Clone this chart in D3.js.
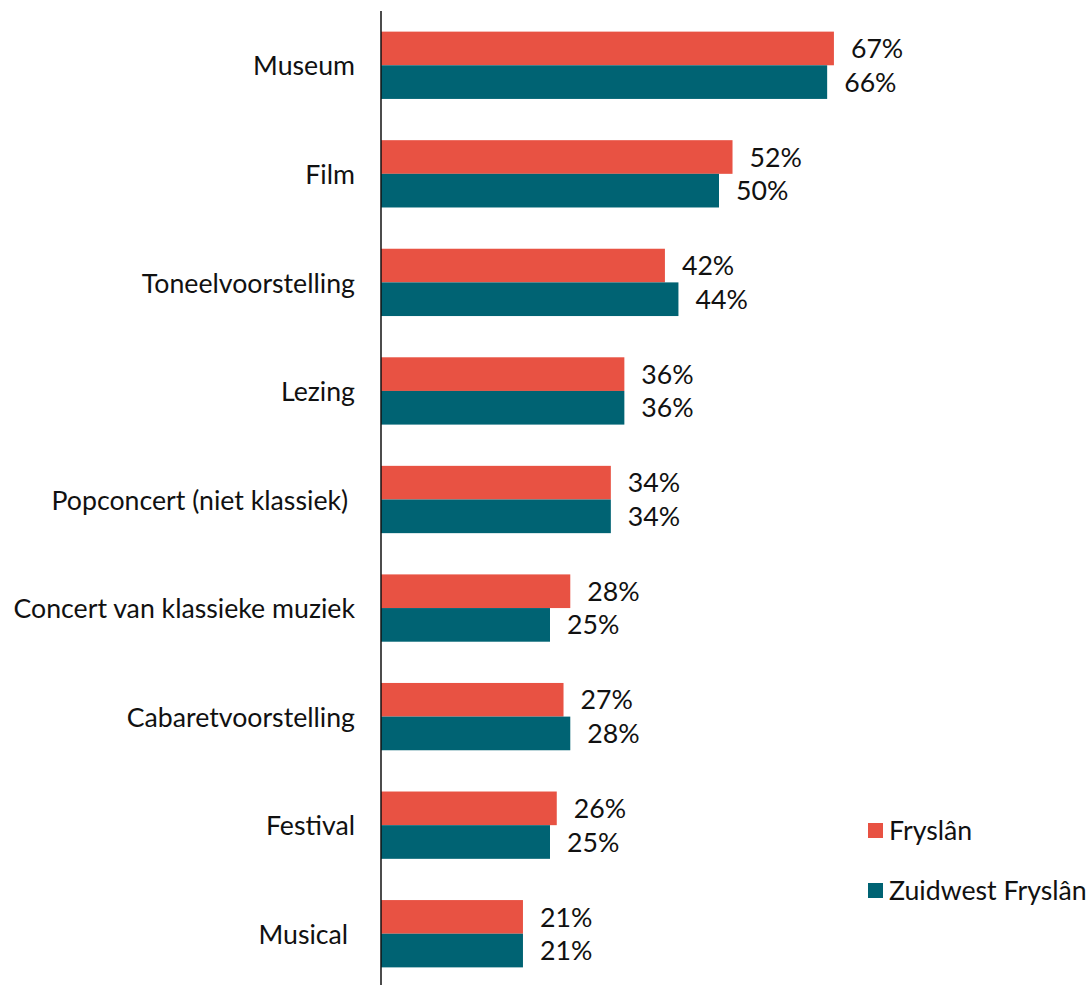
<!DOCTYPE html>
<html>
<head>
<meta charset="utf-8">
<script src="https://cdn.jsdelivr.net/npm/d3@7"></script>
<style>
  body { margin: 0; background: #fff; }
  svg text { font-family: Lato, "Noto Sans", sans-serif; fill: #111; }
</style>
</head>
<body>
<div id="chart"></div>
<script>
const categories = [`Museum`, `Film`, `Toneelvoorstelling`, `Lezing`, `Popconcert (niet klassiek) `,
  `Concert van klassieke muziek`, `Cabaretvoorstelling`, `Festival`, `Musical `];
const seriesNames = [`Fryslân`, `Zuidwest Fryslân`];
const fryslan = [67, 52, 42, 36, 34, 28, 27, 26, 21];
const zuidwest = [66, 50, 44, 36, 34, 25, 28, 25, 21];
const colors = [`#E85243`, `#006373`];

const width = 1092;
const height = 985;
const fontSize = 26.7;

const data = categories.map((c, i) => ({cat: c, values: [fryslan[i], zuidwest[i]]}));

const svg = d3.select(`#chart`)
  .append(`svg`)
    .attr(`width`, width)
    .attr(`height`, height);

const y = d3.scaleBand()
  .domain(categories)
  .range([11, 988])
  .paddingInner(0.38)
  .paddingOuter(0.19);

const ySub = d3.scaleBand()
  .domain([0, 1])
  .range([0, y.bandwidth()]);

const x = d3.scaleLinear()
  .domain([0, 100])
  .range([381, 1057]);

const groups = svg.selectAll(`.group`)
  .data(data)
  .enter().append(`g`)
    .attr(`class`, `group`)
    .attr(`transform`, d => `translate(0,${y(d.cat)})`);

groups.selectAll(`rect`)
  .data(d => d.values)
  .enter().append(`rect`)
    .attr(`x`, x(0))
    .attr(`y`, (d, i) => ySub(i))
    .attr(`width`, d => x(d) - x(0))
    .attr(`height`, ySub.bandwidth())
    .attr(`fill`, (d, i) => colors[i]);

groups.selectAll(`.value`)
  .data(d => d.values)
  .enter().append(`text`)
    .attr(`class`, `value`)
    .attr(`x`, d => x(d) + 17)
    .attr(`y`, (d, i) => ySub(i) + ySub.bandwidth() / 2)
    .attr(`dy`, `0.36em`)
    .style(`font-size`, `${fontSize}px`)
    .text(d => `${d}%`);

// category labels
const yAxis = svg.append(`g`)
  .attr(`transform`, `translate(${x(0)},0)`)
  .call(d3.axisLeft(y).tickSize(0).tickPadding(26));
yAxis.select(`.domain`).remove();
yAxis.selectAll(`text`)
  .style(`font-size`, `${fontSize}px`)
  .style(`font-family`, `Lato, "Noto Sans", sans-serif`)
  .style(`white-space`, `pre`)
  .attr(`dy`, `0.38em`)
  .attr(`fill`, `#111`);

// vertical axis line
svg.append(`line`)
  .attr(`x1`, x(0)).attr(`x2`, x(0))
  .attr(`y1`, 11).attr(`y2`, height)
  .attr(`stroke`, `#111`)
  .attr(`stroke-width`, 1.5);

// legend
const legend = svg.selectAll(`.legend`)
  .data(seriesNames)
  .enter().append(`g`)
    .attr(`class`, `legend`)
    .attr(`transform`, (d, i) => `translate(868,${823 + i * 60})`);

legend.append(`rect`)
  .attr(`width`, 15)
  .attr(`height`, 15)
  .attr(`fill`, (d, i) => colors[i]);

legend.append(`text`)
  .attr(`x`, 21)
  .attr(`y`, 7.5)
  .attr(`dy`, `0.36em`)
  .style(`font-size`, `${fontSize}px`)
  .text(d => d);
</script>
</body>
</html>
